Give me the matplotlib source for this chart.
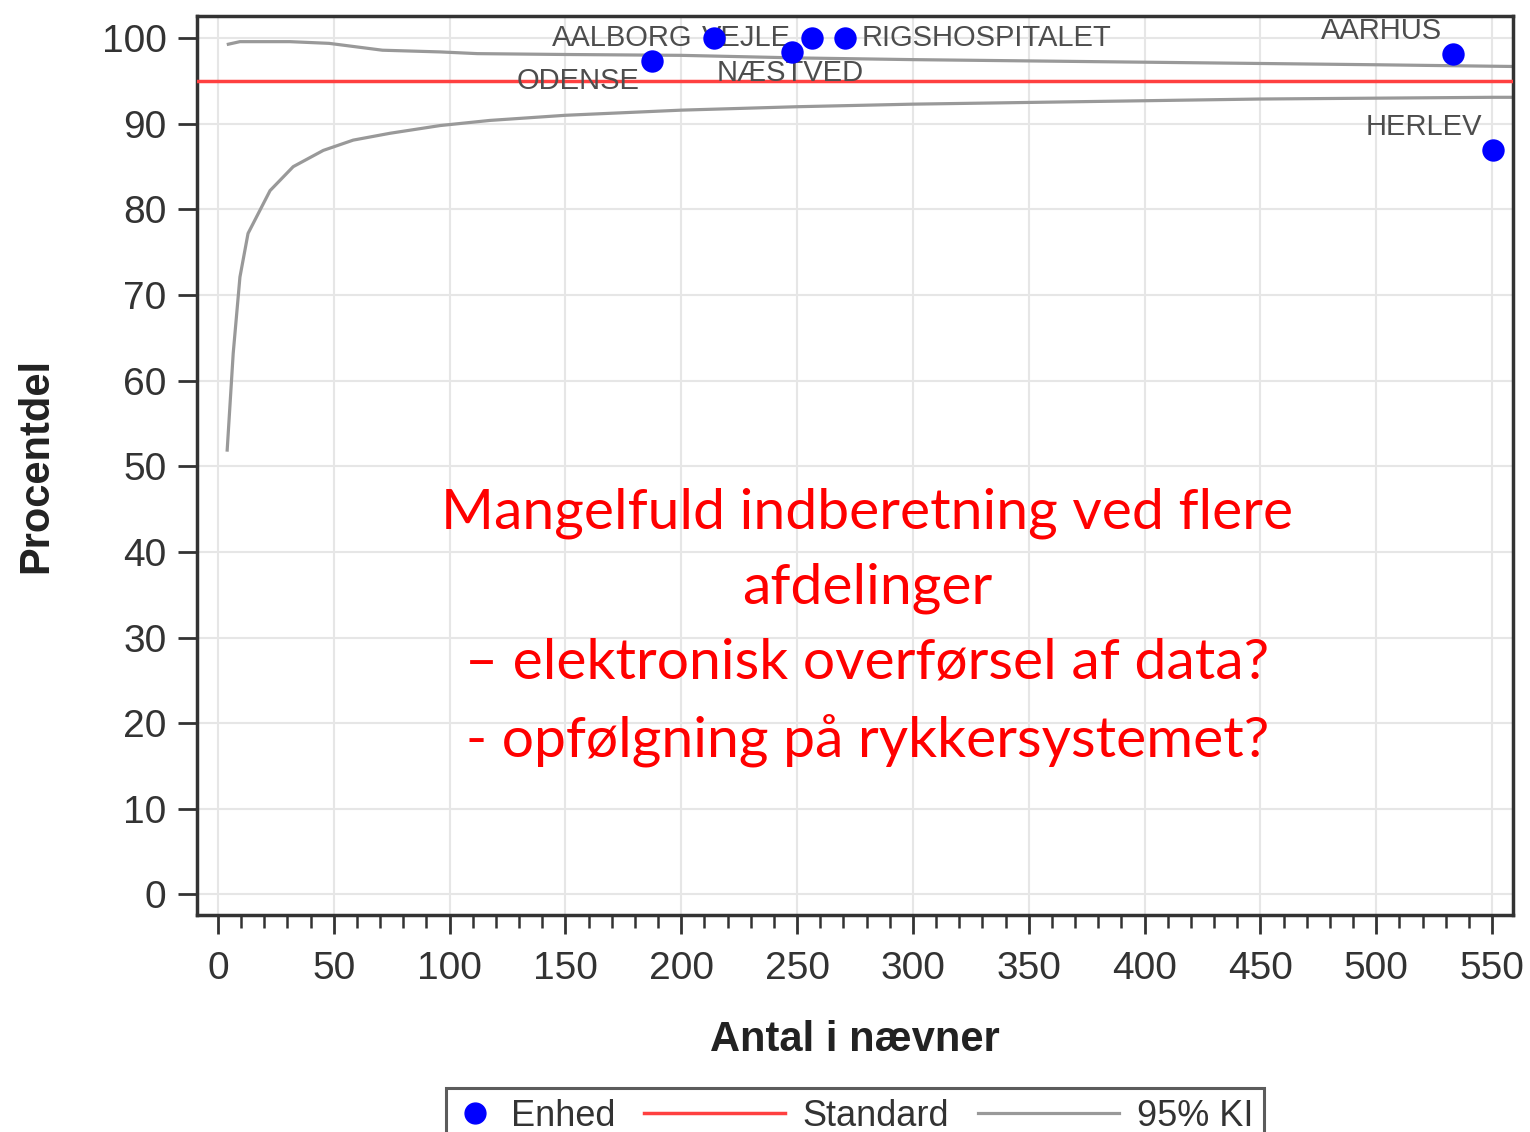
import numpy as np
import matplotlib
matplotlib.use('Agg')
import matplotlib.pyplot as plt
from matplotlib.ticker import MultipleLocator
from matplotlib.lines import Line2D
from matplotlib.legend_handler import HandlerBase

plt.rcParams['font.family'] = ['Liberation Sans', 'DejaVu Sans']

# ── data ────────────────────────────────────────────────────────────────────
units   = ['ODENSE', 'AALBORG', 'NÆSTVED', 'VEJLE', 'RIGSHOSPITALET', 'AARHUS', 'HERLEV']
unit_n  = [187.4, 214.0, 248.0, 256.5, 270.7, 533.0, 550.5]
unit_pc = [97.3, 100.0, 98.4, 100.0, 100.0, 98.2, 87.0]
# label offsets (points) and alignment
lab_off = [(-9, -14), (-15, 0), (-2, -15), (-15, 0), (12, 0), (-8, 16), (-8, 16)]
lab_ha  = ['right', 'right', 'center', 'right', 'left', 'right', 'right']

standard = 95.0

ki_low_n  = [4, 6.6, 9.5, 13, 22.5, 32.5, 45.5, 58.4, 74.3, 95.9, 117.4, 150, 200,
             250, 300, 350, 400, 450, 500, 550, 559]
ki_low_pc = [51.9, 63.2, 72.1, 77.2, 82.2, 85.0, 86.9, 88.1, 88.9, 89.8, 90.4, 91.0,
             91.6, 92.0, 92.3, 92.5, 92.7, 92.9, 93.0, 93.1, 93.1]
ki_up_n   = [4.5, 9.5, 31, 48, 71, 96, 112, 150, 200, 250, 300, 400, 500, 559]
ki_up_pc  = [99.3, 99.6, 99.6, 99.4, 98.6, 98.4, 98.2, 98.1, 98.0, 97.7, 97.5, 97.2,
             96.9, 96.7]

note = ('Mangelfuld indberetning ved flere\nafdelinger\n'
        '– elektronisk overførsel af data?\n- opfølgning på rykkersystemet?')

HANDLE_LEN = 1.0   # legend slot (in font sizes)
LINE_LEN   = 3.9   # drawn length of the line handles


# line handles reach back into the column gap so the marker slot can stay short
class LongLine(HandlerBase):
    def create_artists(self, legend, orig_handle, xdescent, ydescent,
                       width, height, fontsize, trans):
        x1 = -xdescent + width
        x0 = x1 - LINE_LEN * fontsize
        y = height / 2 - ydescent
        l = Line2D([x0, x1], [y, y], color=orig_handle.get_color(),
                   lw=orig_handle.get_linewidth())
        l.set_transform(trans)
        return [l]


# ── plot ────────────────────────────────────────────────────────────────────
fig = plt.figure(figsize=(15.3, 11.32), dpi=100)
ax = fig.add_axes([0.1288, 0.1917, 0.8601, 0.7942])

ax.grid(True, color='#e6e6e6', lw=1.5, zorder=0)
ax.plot(ki_low_n, ki_low_pc, color='#999999', lw=2.3, zorder=2)
ax.plot(ki_up_n, ki_up_pc, color='#999999', lw=2.3, zorder=2)
ax.axhline(standard, color='#ff4040', lw=2.5, zorder=3)
ax.scatter(unit_n, unit_pc, s=260, color='#0000ff', zorder=5, linewidths=0)

for name, x, y, off, ha in zip(units, unit_n, unit_pc, lab_off, lab_ha):
    ax.annotate(name, (x, y), xytext=off, textcoords='offset points',
                ha=ha, va='center', fontsize=21, color='#4d4d4d', zorder=4)

ax.set_xlim(-9, 559)
ax.set_ylim(-2.4, 102.6)
ax.xaxis.set_major_locator(MultipleLocator(50))
ax.xaxis.set_minor_locator(MultipleLocator(10))
ax.yaxis.set_major_locator(MultipleLocator(10))
ax.tick_params(axis='both', which='major', length=14, width=2, labelsize=28,
               colors='#333333')
ax.tick_params(axis='x', which='major', pad=12)
ax.tick_params(axis='y', which='major', pad=8)
ax.tick_params(axis='x', which='minor', length=9, width=1.8, colors='#333333')
for s in ax.spines.values():
    s.set_linewidth(2.5)
    s.set_color('#333333')

ax.set_xlabel('Antal i nævner', fontsize=30, fontweight='bold', color='#222222',
              labelpad=24)
ax.set_ylabel('Procentdel', fontsize=30, fontweight='bold', color='#222222',
              labelpad=33)

fig.text(0.567, 0.446, note, ha='center', va='center', color='#ff0000',
         fontsize=41, family=['Lato', 'DejaVu Sans'], linespacing=1.58)

std_h = Line2D([], [], color='#ff4040', lw=2.5)
ki_h = Line2D([], [], color='#999999', lw=2.3)
handles = [
    Line2D([], [], marker='o', ls='none', color='#0000ff', markersize=15),
    std_h,
    ki_h,
]
leg = fig.legend(handles, ['Enhed', 'Standard', '95% KI'], ncol=3,
                 loc='upper center', bbox_to_anchor=(0.5588, 0.039),
                 fontsize=26, frameon=True, fancybox=False,
                 handlelength=HANDLE_LEN, columnspacing=3.7, borderpad=0.3,
                 handletextpad=0.5, borderaxespad=0,
                 handler_map={std_h: LongLine(), ki_h: LongLine()})
leg.get_frame().set_edgecolor('#333333')
leg.get_frame().set_linewidth(2.2)
for t in leg.get_texts():
    t.set_color('#333333')

fig.savefig('out.png', dpi=100)
